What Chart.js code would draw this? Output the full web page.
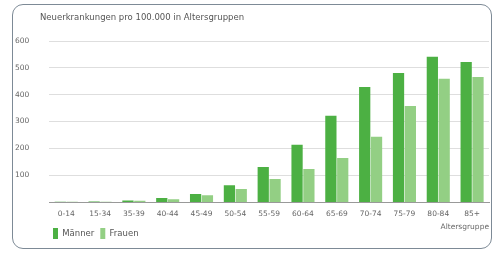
<!DOCTYPE html>
<html>
<head>
<meta charset="utf-8">
<script src="https://cdn.jsdelivr.net/npm/chart.js@4"></script>
<style>
  html, body { margin: 0; padding: 0; background: #fff; }
  #wrap { position: relative; width: 499px; height: 253px; }
  #frame {
    position: absolute; left: 12px; top: 4px; width: 478px; height: 243px;
    border: 1.5px solid #7d8a96; border-radius: 11px; pointer-events: none;
  }
  #title {
    position: absolute; left: 40px; top: 12px;
    font: 8.5px 'DejaVu Sans'; color: #555;
  }
  canvas { position: absolute; left: 0; top: 0; }
</style>
</head>
<body>
<div id="wrap">
  <canvas id="chart" width="499" height="253"></canvas>
  <div id="title">Neuerkrankungen pro 100.000 in Altersgruppen</div>
  <div id="frame"></div>
</div>
<script>
// Altersgruppen and values
const ageGroups = ['0-14', '15-34', '35-39', '40-44', '45-49', '50-54', '55-59', '60-64', '65-69', '70-74', '75-79', '80-84', '85+'];
const maenner = [1, 2, 6, 15, 30, 62, 130, 213, 321, 429, 481, 541, 522];
const frauen = [1, 1, 5, 10, 25, 48, 86, 123, 164, 243, 358, 459, 466];
const yTicks = [100, 200, 300, 400, 500, 600];

// push the legend to the right so it lines up under the plot
const legendShift = {
    id: 'legendShift',
    afterLayout(chart) {
        chart.legend.left += 32;
        chart.legend.right += 32;
    }
};

const chart = new Chart('chart', {
    type: 'bar',
    data: {
        labels: ageGroups,
        datasets: [{
            label: 'Männer',
            data: maenner,
            backgroundColor: '#4cb043'
        }, {
            label: 'Frauen',
            data: frauen,
            backgroundColor: '#93cf84'
        }]
    },
    options: {
        responsive: false,
        animation: false,
        layout: { padding: { left: 15, right: 10, top: 41, bottom: 4 } },
        datasets: { bar: { categoryPercentage: 0.7, barPercentage: 0.95 } },
        plugins: {
            legend: {
                position: 'bottom',
                align: 'start',
                labels: {
                    boxWidth: 5,
                    boxHeight: 11,
                    padding: 6,
                    color: '#555',
                    font: { family: 'DejaVu Sans', size: 8.5 }
                }
            },
            tooltip: { enabled: false }
        },
        scales: {
            x: {
                grid: { display: false },
                border: { color: '#999' },
                ticks: {
                    color: '#666',
                    maxRotation: 0,
                    autoSkip: false,
                    padding: 0,
                    font: { family: 'DejaVu Sans', size: 7.5 }
                },
                title: {
                    display: true,
                    text: 'Altersgruppe',
                    align: 'end',
                    color: '#666',
                    font: { family: 'DejaVu Sans', size: 7.5 },
                    padding: { top: 4, bottom: -10 }
                }
            },
            y: {
                min: 0,
                max: 600,
                afterBuildTicks: (axis) => {
                    axis.ticks = yTicks.map(v => ({ value: v }));
                },
                grid: { color: '#dedede', drawTicks: false },
                border: { display: false },
                ticks: {
                    color: '#666',
                    crossAlign: 'far',
                    padding: 10,
                    font: { family: 'DejaVu Sans', size: 7.5 }
                }
            }
        }
    },
    plugins: [legendShift]
});
</script>
</body>
</html>
